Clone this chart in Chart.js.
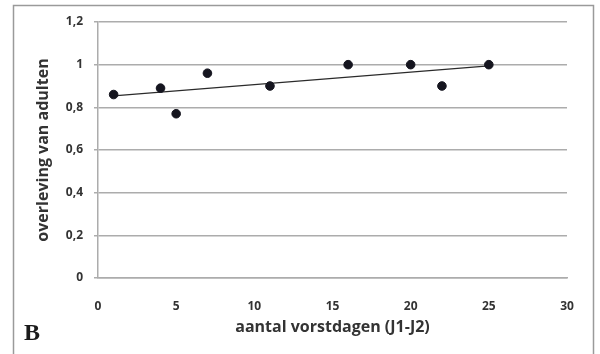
<!DOCTYPE html>
<html>
<head>
<meta charset="utf-8">
<script src="https://cdn.jsdelivr.net/npm/chart.js@4"></script>
<style>
  html, body { margin: 0; padding: 0; background: #ffffff; }
  #wrap { width: 600px; height: 354px; }
</style>
</head>
<body>
<div id="wrap"><canvas id="c" width="600" height="354"></canvas></div>
<script>
// Number of frost days (J1-J2) and adult survival per observation
const frostDays = [1, 4, 5, 7, 11, 16, 20, 22, 25];
const survival  = [0.86, 0.89, 0.77, 0.96, 0.90, 1.00, 1.00, 0.90, 1.00];

const yTickLabels = ['0', '0,2', '0,4', '0,6', '0,8', '1', '1,2'];
const xTickLabels = ['0', '5', '10', '15', '20', '25', '30'];

const xTitle = 'aantal vorstdagen (J1-J2)';
const yTitle = 'overleving van adulten';
const panelLetter = 'B';

// Least-squares trend line through the observations
function linearFit(xs, ys) {
  const n = xs.length;
  const mx = xs.reduce((a, b) => a + b, 0) / n;
  const my = ys.reduce((a, b) => a + b, 0) / n;
  let sxy = 0, sxx = 0;
  for (let i = 0; i < n; i++) {
    sxy += (xs[i] - mx) * (ys[i] - my);
    sxx += (xs[i] - mx) * (xs[i] - mx);
  }
  const slope = sxy / sxx;
  return { slope, intercept: my - slope * mx };
}
const fit = linearFit(frostDays, survival);
const xMin = Math.min(...frostDays), xMax = Math.max(...frostDays);
const trendPoints = [
  { x: xMin, y: fit.intercept + fit.slope * xMin },
  { x: xMax, y: fit.intercept + fit.slope * xMax }
];

const points = frostDays.map((x, i) => ({ x, y: survival[i] }));

const FONT = '"Open Sans", "DejaVu Sans", sans-serif';
const TEXT = '#333333';
const GRID = '#acacac';

// Outer frame and panel letter
const decorations = {
  id: 'decorations',
  beforeDraw(chart) {
    const ctx = chart.ctx;
    ctx.save();
    ctx.fillStyle = '#ffffff';
    ctx.fillRect(0, 0, chart.width, chart.height);
    ctx.strokeStyle = '#9a9a9a';
    ctx.lineWidth = 1.5;
    ctx.strokeRect(13.5, 5.5, 580, 360);
    ctx.restore();
  },
  afterDraw(chart) {
    const ctx = chart.ctx;
    ctx.save();
    ctx.fillStyle = '#1a1a1a';
    ctx.font = 'bold 24px "Liberation Serif", serif';
    ctx.textBaseline = 'alphabetic';
    ctx.textAlign = 'left';
    ctx.fillText(panelLetter, 24, 340);
    ctx.restore();
  }
};

new Chart(document.getElementById('c'), {
  type: 'scatter',
  data: {
    datasets: [
      {
        type: 'line',
        label: 'trend',
        data: trendPoints,
        borderColor: '#2b2b2b',
        borderWidth: 1.3,
        pointRadius: 0,
        fill: false,
        order: 2
      },
      {
        label: yTitle,
        data: points,
        backgroundColor: '#15151f',
        borderColor: '#15151f',
        pointRadius: 4.3,
        pointHoverRadius: 4.3,
        order: 1
      }
    ]
  },
  options: {
    responsive: false,
    animation: false,
    layout: { padding: { left: 0, right: 33, top: 22, bottom: 0 } },
    plugins: {
      legend: { display: false },
      tooltip: { enabled: false }
    },
    scales: {
      x: {
        type: 'linear',
        min: 0,
        max: 30,
        afterFit(scale) { scale.height = 76; },
        afterBuildTicks(scale) {
          scale.ticks = xTickLabels.map(v => ({ value: Number(v) }));
        },
        grid: { display: false },
        border: { display: true, color: GRID, width: 1.5 },
        ticks: {
          padding: 13,
          color: TEXT,
          font: { family: FONT, size: 12, weight: 'bold' },
          maxRotation: 0,
          callback: (v, i) => xTickLabels[i]
        },
        title: {
          display: true,
          text: xTitle,
          color: TEXT,
          font: { family: FONT, size: 16, weight: 'bold' },
          padding: { top: 0, bottom: 17 }
        }
      },
      y: {
        type: 'linear',
        min: 0,
        max: 1.2,
        afterFit(scale) { scale.width = 98; },
        afterBuildTicks(scale) {
          scale.ticks = yTickLabels.map(t => ({ value: Number(t.replace(',', '.')) }));
        },
        grid: {
          display: true,
          color: GRID,
          lineWidth: 1.5,
          drawTicks: true,
          tickLength: 4,
          tickColor: GRID
        },
        border: { display: true, color: GRID, width: 1.5 },
        ticks: {
          padding: 11,
          color: TEXT,
          font: { family: FONT, size: 12, weight: 'bold' },
          callback: (v, i) => yTickLabels[i]
        },
        title: {
          display: true,
          text: yTitle,
          color: TEXT,
          font: { family: FONT, size: 16, weight: 'bold' },
          padding: { top: 34, bottom: 0 }
        }
      }
    }
  },
  plugins: [decorations]
});
</script>
</body>
</html>
